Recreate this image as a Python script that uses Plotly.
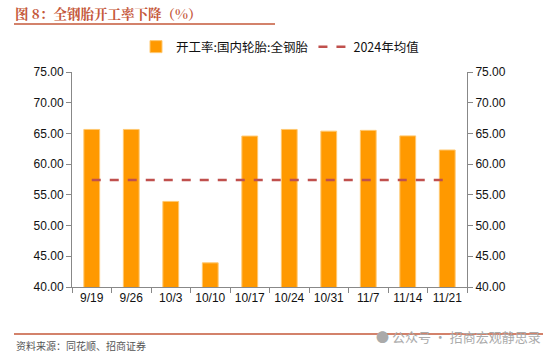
import plotly.graph_objects as go

categories = ["9/19", "9/26", "10/3", "10/10", "10/17", "10/24", "10/31", "11/7", "11/14", "11/21"]
rate_values = [65.65, 65.65, 53.93, 43.93, 64.57, 65.65, 65.37, 65.5, 64.6, 62.3]
avg_2024 = [57.43] * len(categories)
tick_vals = [40, 45, 50, 55, 60, 65, 70, 75]
tick_text = ["%.2f" % v for v in tick_vals]

W, H = 550, 360
L, R, T, B = 72, 83, 72, 73
PW, PH = W - L - R, H - T - B


def px(x):
    return (x - L) / PW


def py(y):
    return 1 - (y - T) / PH


fig = go.Figure()
fig.add_trace(go.Bar(
    x=categories, y=rate_values, name="开工率:国内轮胎:全钢胎",
    marker=dict(color="#FF9900", line=dict(color="#FFC870", width=1)),
))
fig.add_trace(go.Scatter(
    x=categories, y=avg_2024, name="2024年均值", mode="lines",
    line=dict(color="#C0504D", width=2.5, dash="dash"),
))
fig.add_trace(go.Scatter(
    x=categories, y=avg_2024, yaxis="y2", mode="lines", showlegend=False,
    line=dict(color="rgba(0,0,0,0)", width=0), hoverinfo="skip",
))

axis_font = dict(family="Liberation Sans, Arial", size=12, color="#111111")
fig.update_layout(
    width=W, height=H,
    margin=dict(l=L, r=R, t=T, b=B),
    paper_bgcolor="white", plot_bgcolor="white",
    bargap=0.6,
    showlegend=True,
    legend=dict(orientation="h", x=px(280), xanchor="center", y=py(47), yanchor="middle",
                font=dict(family="Noto Sans CJK SC, Liberation Sans", size=12.5, color="#111111"),
                traceorder="normal"),
    xaxis=dict(showline=True, linecolor="#888888", linewidth=1, ticks="outside",
               tickson="boundaries", ticklen=5, tickcolor="#888888",
               tickfont=axis_font, showgrid=False, zeroline=False),
    yaxis=dict(range=[40, 75], tickvals=tick_vals, ticktext=tick_text, showline=True,
               linecolor="#888888", linewidth=1, ticks="outside", ticklen=5,
               tickcolor="#888888", tickfont=axis_font, showgrid=False, zeroline=False),
    yaxis2=dict(range=[40, 75], tickvals=tick_vals, ticktext=tick_text, overlaying="y",
                side="right", showline=True, linecolor="#888888", linewidth=1,
                ticks="outside", ticklen=5, tickcolor="#888888", tickfont=axis_font,
                showgrid=False, zeroline=False),
    font=dict(family="Noto Sans CJK SC"),
)

title_color = "#C5583A"
fig.add_annotation(text="<b>图 8：全钢胎开工率下降（%）</b>", xref="paper", yref="paper",
                   x=px(14), y=py(13), xanchor="left", yanchor="middle", showarrow=False,
                   borderpad=0,
                   font=dict(family="Noto Serif CJK SC, Noto Sans CJK SC", size=13.5, color=title_color))
fig.add_shape(type="line", xref="paper", yref="paper",
              x0=px(14), x1=px(275), y0=py(24), y1=py(24),
              line=dict(color=title_color, width=1.5))
fig.add_shape(type="line", xref="paper", yref="paper",
              x0=px(14), x1=px(543), y0=py(334), y1=py(334),
              line=dict(color=title_color, width=1.5))
fig.add_annotation(text="资料来源：同花顺、招商证券", xref="paper", yref="paper",
                   x=px(14), y=py(345), xanchor="left", yanchor="middle", showarrow=False,
                   font=dict(family="Noto Sans CJK SC", size=10, color="#555555"))
fig.add_annotation(text="● 公众号 · 招商宏观静思录", xref="paper", yref="paper",
                   x=px(543), y=py(336), xanchor="right", yanchor="middle", showarrow=False,
                   font=dict(family="Noto Sans CJK SC", size=13, color="#AAAAAA"))

fig.write_html("out.html", config={"displayModeBar": False},
               post_script="document.body.style.margin='0px';")
